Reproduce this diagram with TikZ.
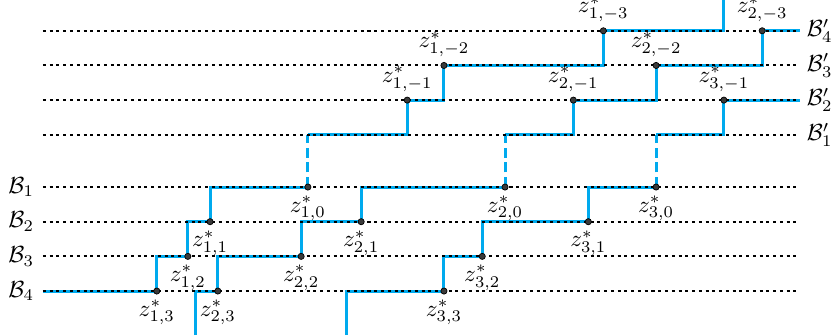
\documentclass[tikz,border=0pt]{standalone}
\usepackage{amsmath, amssymb}
\usepackage{tikz}
\usetikzlibrary{positioning}
\definecolor{mCyan}{HTML}{00AAEE}
\definecolor{mDark}{HTML}{3A3A3A}

\begin{document}
\begin{tikzpicture}[scale=0.78,
    pathline/.style={mCyan, line width=1.3pt},
    jumpline/.style={mCyan, line width=1.3pt, dash pattern=on 4.3pt off 2pt},
    levelline/.style={black, line width=0.85pt, dash pattern=on 1.3pt off 1.6pt},
    dot/.style={fill=mDark, draw=black, line width=0.3pt}]
    \useasboundingbox (-0.83,-0.85) rectangle (15.23,5.625);
    % points on the lower levels
    \coordinate (z13) at (2.20,0);    \coordinate (z12) at (2.80,0.67);
    \coordinate (z11) at (3.23,1.34); \coordinate (z10) at (5.12,2.01);
    \coordinate (z23) at (3.38,0);    \coordinate (z22) at (4.99,0.67);
    \coordinate (z21) at (6.15,1.34); \coordinate (z20) at (8.93,2.01);
    \coordinate (z33) at (7.75,0);    \coordinate (z32) at (8.49,0.67);
    \coordinate (z31) at (10.54,1.34); \coordinate (z30) at (11.85,2.01);
    % points on the upper levels
    \coordinate (z1m1) at (7.04,3.69);  \coordinate (z1m2) at (7.75,4.36);
    \coordinate (z1m3) at (10.83,5.03);
    \coordinate (z2m1) at (10.25,3.69); \coordinate (z2m2) at (11.85,4.36);
    \coordinate (z2m3) at (13.90,5.03);
    \coordinate (z3m1) at (13.16,3.69);
    % free ends
    \coordinate (s1) at (0,0);
    \coordinate (b2) at (2.94,-0.85);   \coordinate (b3) at (5.86,-0.85);
    \coordinate (c1) at (5.12,3.02);    \coordinate (c2) at (8.93,3.02);
    \coordinate (c3) at (11.85,3.02);
    \coordinate (t1) at (13.16,5.625);
    \coordinate (e2) at (14.63,5.03);   \coordinate (e3) at (14.63,3.69);

    % staircases
    \draw[pathline] (s1) -- (z13) |- (z12) |- (z11) |- (z10);
    \draw[jumpline] (z10) -- (c1);
    \draw[pathline] (c1) -| (z1m1) -| (z1m2) -| (z1m3) -| (t1);
    \draw[pathline] (b2) |- (z23) |- (z22) |- (z21) |- (z20);
    \draw[jumpline] (z20) -- (c2);
    \draw[pathline] (c2) -| (z2m1) -| (z2m2) -| (z2m3) -- (e2);
    \draw[pathline] (b3) |- (z33) |- (z32) |- (z31) |- (z30);
    \draw[jumpline] (z30) -- (c3);
    \draw[pathline] (c3) -| (z3m1) -- (e3);

    % levels
    \draw[levelline] (0,2.01) node[left] (B1) {$\mathcal{B}_1$} -- (14.63,2.01);
    \draw[levelline] (0,1.34) node[left] (B2) {$\mathcal{B}_2$} -- (14.63,1.34);
    \draw[levelline] (0,0.67) node[left] (B3) {$\mathcal{B}_3$} -- (14.63,0.67);
    \draw[levelline] (0,0) node[left] (B4) {$\mathcal{B}_4$} -- (14.63,0);
    \draw[levelline] (0,3.02) -- (14.63,3.02) node[right, inner sep=2.5pt] (Bp1) {$\mathcal{B}'_1$};
    \draw[levelline] (0,3.69) -- (14.63,3.69) node[right, inner sep=2.5pt] (Bp2) {$\mathcal{B}'_2$};
    \draw[levelline] (0,4.36) -- (14.63,4.36) node[right, inner sep=2.5pt] (Bp3) {$\mathcal{B}'_3$};
    \draw[levelline] (0,5.03) -- (14.63,5.03) node[right, inner sep=2.5pt] (Bp4) {$\mathcal{B}'_4$};

    % dots and labels
    \draw[dot] (z13) circle (1.7pt) (z12) circle (1.7pt) (z11) circle (1.7pt) (z10) circle (1.7pt);
    \draw[dot] (z23) circle (1.7pt) (z22) circle (1.7pt) (z21) circle (1.7pt) (z20) circle (1.7pt);
    \draw[dot] (z33) circle (1.7pt) (z32) circle (1.7pt) (z31) circle (1.7pt) (z30) circle (1.7pt);
    \draw[dot] (z1m1) circle (1.7pt) (z1m2) circle (1.7pt) (z1m3) circle (1.7pt);
    \draw[dot] (z2m1) circle (1.7pt) (z2m2) circle (1.7pt) (z2m3) circle (1.7pt);
    \draw[dot] (z3m1) circle (1.7pt);
    \node[below=0.3pt of z13] (l13) {$z^*_{1,3}$};
    \node[below=0.3pt of z12] (l12) {$z^*_{1,2}$};
    \node[below=0.3pt of z11] (l11) {$z^*_{1,1}$};
    \node[below=0.3pt of z10] (l10) {$z^*_{1,0}$};
    \node[below=0.3pt of z23] (l23) {$z^*_{2,3}$};
    \node[below=0.3pt of z22] (l22) {$z^*_{2,2}$};
    \node[below=0.3pt of z21] (l21) {$z^*_{2,1}$};
    \node[below=0.3pt of z20] (l20) {$z^*_{2,0}$};
    \node[below=0.3pt of z33] (l33) {$z^*_{3,3}$};
    \node[below=0.3pt of z32] (l32) {$z^*_{3,2}$};
    \node[below=0.3pt of z31] (l31) {$z^*_{3,1}$};
    \node[below=0.3pt of z30] (l30) {$z^*_{3,0}$};
    \node[above=0.3pt of z1m1] (l1m1) {$z^*_{1,-1}$};
    \node[above=0.3pt of z1m2] (l1m2) {$z^*_{1,-2}$};
    \node[above=0.3pt of z1m3] (l1m3) {$z^*_{1,-3}$};
    \node[above=0.3pt of z2m1] (l2m1) {$z^*_{2,-1}$};
    \node[above=0.3pt of z2m2] (l2m2) {$z^*_{2,-2}$};
    \node[above=0.3pt of z2m3] (l2m3) {$z^*_{2,-3}$};
    \node[above=0.3pt of z3m1] (l3m1) {$z^*_{3,-1}$};
\end{tikzpicture}
\end{document}
